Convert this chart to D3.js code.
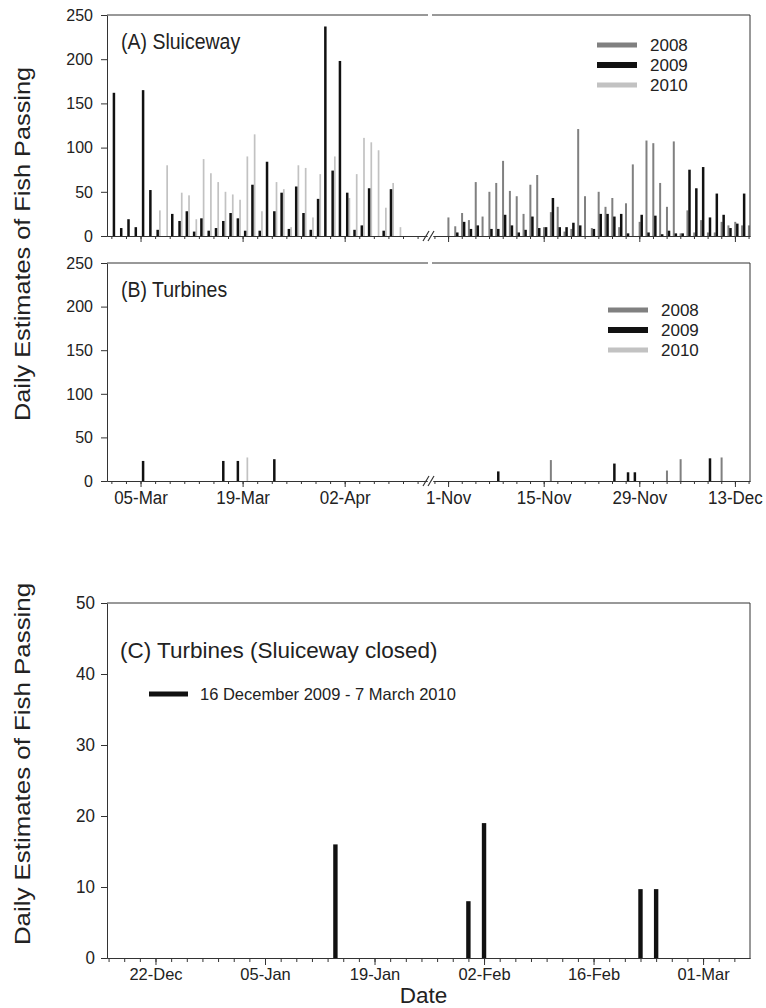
<!DOCTYPE html>
<html><head><meta charset="utf-8">
<script src="https://cdn.jsdelivr.net/npm/d3@7"></script>
<style>
body{margin:0;background:#fff}
svg{display:block}
text{font-family:Arial,"Liberation Sans",sans-serif;fill:#222}
</style></head>
<body><svg id="chart" width="766" height="1008"></svg>
<script>
// ---------------- DATA ----------------
const seriesNames = ["2008", "2009", "2010"];
const seriesColors = ["#808080", "#111111", "#c2c2c2"];

// Panel A – Sluiceway, daily estimates (spring window starts 1 March, fall window starts 1 November)
const springStart = "2009-03-01";
const fallStart = "2009-11-01";
const sluiceSpring2009 = [162,9,19,10,165,52,7,0,25,17,28,5,20,6,9,17,26,20,6,58,6,84,28,49,8,56,26,7,42,237,74,198,49,7,12,54,0,6,53,0,0,0,0];
const sluiceSpring2010 = [0,0,0,0,0,0,29,80,0,49,46,19,87,71,61,50,47,41,90,115,28,0,61,53,10,80,77,21,70,0,90,0,43,70,111,106,97,32,60,10,0,0,0];
const sluiceFall2008 = [21,11,26,18,61,22,50,60,85,51,45,25,58,69,10,27,33,5,8,121,45,9,50,33,43,10,37,81,16,108,105,60,33,107,3,29,4,18,4,4,16,12,16,12,12];
const sluiceFall2009 = [0,4,16,8,12,0,8,8,24,12,4,7,22,9,10,43,10,10,15,12,0,8,25,25,22,25,3,0,24,4,23,2,6,3,3,75,54,78,21,48,24,9,14,48,0];

// Panel B – Turbines (sparse days with passage)
const turbine2008Dates = ["2009-11-16", "2009-12-03", "2009-12-05", "2009-12-11"];
const turbine2008Values = [24, 12, 25, 27];
const turbine2009Dates = ["2009-03-05", "2009-03-16", "2009-03-18", "2009-03-23", "2009-11-08", "2009-11-25", "2009-11-27", "2009-11-28", "2009-12-09"];
const turbine2009Values = [23, 23, 23, 25, 11, 20, 10, 10, 26];
const turbine2010Dates = ["2009-03-19"];
const turbine2010Values = [27];

// Panel C – Turbines with sluiceway closed
const closedDates = ["2010-01-14", "2010-01-31", "2010-02-02", "2010-02-22", "2010-02-24"];
const closedValues = [16, 8, 19, 9.7, 9.7];

// Axis ticks
const abTickDates = ["2009-03-05", "2009-03-19", "2009-04-02", "2009-11-01", "2009-11-15", "2009-11-29", "2009-12-13"];
const abTickLabels = ["05-Mar", "19-Mar", "02-Apr", "1-Nov", "15-Nov", "29-Nov", "13-Dec"];
const abYTicks = [0, 50, 100, 150, 200, 250];
const cTickDates = ["2009-12-22", "2010-01-05", "2010-01-19", "2010-02-02", "2010-02-16", "2010-03-02"];
const cTickLabels = ["22-Dec", "05-Jan", "19-Jan", "02-Feb", "16-Feb", "01-Mar"];
const cYTicks = [0, 10, 20, 30, 40, 50];

// ---------------- LAYOUT ----------------
const SY = 1.12; // vertical stretch of the reference's lettering
const L = 107, R = 750;
const breakL = 427, breakR = 433;
const panelA = {top: 15, bottom: 236};
const panelB = {top: 263, bottom: 481};
const panelC = {top: 603, bottom: 958};
const axisColor = "#333";

const parse = d3.timeParse("%Y-%m-%d");
const svg = d3.select("#chart");

function stretchText(sel, sy) {
  sel.each(function() {
    const t = d3.select(this);
    const x = +t.attr("x") || 0, y = +t.attr("y") || 0;
    t.attr("x", null).attr("y", null)
     .attr("transform", `translate(${x},${y}) scale(1,${sy || SY})`);
  });
}
function label(g, x, y, s, size, anchor, sy) {
  return g.append("text").attr("transform", `translate(${x},${y}) scale(1,${sy || SY})`)
    .attr("font-size", size).attr("text-anchor", anchor || "start").text(s);
}

// x scales for panels A/B (broken axis)
const xLeft = d3.scaleTime()
  .domain([new Date(2009, 1, 28, 9, 36), new Date(2009, 3, 13, 7, 0)])
  .range([L, breakL]);
const xRight = d3.scaleTime()
  .domain([new Date(2009, 9, 29, 19, 0), new Date(2009, 11, 15, 5, 0)])
  .range([breakR, R]);
const xAB = d => (d.getMonth() < 6 ? xLeft(d) : xRight(d));
const dayW = d => (d.getMonth() < 6 ? 7.29 : 6.83);
const subOffset = d3.scalePoint().domain(seriesNames).range([0.05, 0.65]);
const barWidth = {"2008": 2.0, "2009": 2.5, "2010": 1.7};

function dailyRecords(startStr, values, series) {
  const s = parse(startStr);
  return values.map((v, i) => ({date: d3.timeDay.offset(s, i), value: v, series}));
}
function sparseRecords(dates, values, series) {
  return dates.map((d, i) => ({date: parse(d), value: values[i], series}));
}

const dataA = [
  ...dailyRecords(fallStart, sluiceFall2008, "2008"),
  ...dailyRecords(springStart, sluiceSpring2010, "2010"),
  ...dailyRecords(fallStart, sluiceFall2009, "2009"),
  ...dailyRecords(springStart, sluiceSpring2009, "2009")
].filter(d => d.value > 0);
const dataB = [
  ...sparseRecords(turbine2008Dates, turbine2008Values, "2008"),
  ...sparseRecords(turbine2010Dates, turbine2010Values, "2010"),
  ...sparseRecords(turbine2009Dates, turbine2009Values, "2009")
];

function drawABPanel(p, data, title, showLabels, legendX, legendY) {
  const y = d3.scaleLinear().domain([0, 250]).range([p.bottom, p.top]);
  const g = svg.append("g");
  const color = d3.scaleOrdinal(seriesNames, seriesColors);

  g.append("g").selectAll("rect").data(data).join("rect")
    .attr("x", d => xAB(d.date) + subOffset(d.series) * dayW(d.date) - barWidth[d.series] / 2)
    .attr("width", d => barWidth[d.series])
    .attr("y", d => y(d.value))
    .attr("height", d => y(0) - y(d.value))
    .attr("fill", d => color(d.series));

  g.append("line").attr("x1", L).attr("x2", breakL + 1).attr("y1", p.top).attr("y2", p.top).attr("stroke", axisColor);
  g.append("line").attr("x1", breakR - 1).attr("x2", R).attr("y1", p.top).attr("y2", p.top).attr("stroke", axisColor);
  g.append("line").attr("x1", R).attr("x2", R).attr("y1", p.top).attr("y2", p.bottom).attr("stroke", axisColor);

  const ya = g.append("g").attr("transform", `translate(${L},0)`)
    .call(d3.axisLeft(y).tickValues(abYTicks).tickSize(6).tickSizeOuter(0).tickPadding(8));
  ya.selectAll("text").attr("font-size", 16).attr("fill", "#222").attr("dy", "0.32em");
  stretchText(ya.selectAll("text"), 1.05);

  const ticks = abTickDates.map(parse);
  [[xLeft, ticks.filter(d => d.getMonth() < 6)], [xRight, ticks.filter(d => d.getMonth() >= 6)]].forEach(([sc, tk]) => {
    const minor = d3.timeDay.range(sc.domain()[0], sc.domain()[1]).filter(d =>
      Math.abs(d3.timeDay.count(tk[0], d)) % 2 === 0);
    const gm = g.append("g").attr("transform", `translate(0,${p.bottom})`)
      .call(d3.axisBottom(sc).tickValues(minor).tickSize(3).tickSizeOuter(0).tickFormat(""));
    const gM = g.append("g").attr("transform", `translate(0,${p.bottom})`)
      .call(d3.axisBottom(sc).tickValues(tk).tickSize(6).tickSizeOuter(0)
        .tickFormat(d => showLabels ? abTickLabels[abTickDates.indexOf(d3.timeFormat("%Y-%m-%d")(d))] : ""));
    gM.selectAll("text").attr("font-size", 17).attr("fill", "#222").attr("y", 9).attr("dy", "0.75em");
    stretchText(gM.selectAll("text"));
    [gm, gM].forEach(a => a.selectAll("path,line").attr("stroke", axisColor));
  });
  ya.selectAll("path,line").attr("stroke", axisColor);

  [breakL - 1, breakR - 2].forEach(bx => {
    g.append("line").attr("x1", bx - 3).attr("x2", bx + 3)
      .attr("y1", p.bottom + 5).attr("y2", p.bottom - 5)
      .attr("stroke", "#333").attr("stroke-width", 1.2);
  });

  label(g, 121, p.top + 34, title, 19.5, "start", 1.15);

  const lg = g.append("g");
  seriesNames.forEach((s, i) => {
    const ly = legendY + i * 20;
    lg.append("line").attr("x1", legendX).attr("x2", legendX + 40).attr("y1", ly).attr("y2", ly)
      .attr("stroke", seriesColors[i]).attr("stroke-width", s === "2009" ? 6 : 5);
    label(lg, legendX + 53, ly + 6, s, 17, "start", 1.0);
  });
}

drawABPanel(panelA, dataA, "(A) Sluiceway", false, 597, 45);
drawABPanel(panelB, dataB, "(B) Turbines", true, 608, 310);

svg.append("text")
  .attr("transform", `translate(30,244) scale(1,1.15) rotate(-90)`)
  .attr("text-anchor", "middle").attr("font-size", 22).text("Daily Estimates of Fish Passing");

// ---------------- PANEL C ----------------
(function() {
  const p = panelC;
  const x = d3.scaleTime()
    .domain([new Date(2009, 11, 15, 19, 12), new Date(2010, 2, 8, 0, 0)])
    .range([L, R]);
  const y = d3.scaleLinear().domain([0, 50]).range([p.bottom, p.top]);
  const g = svg.append("g");
  const recs = closedDates.map((d, i) => ({date: parse(d), value: closedValues[i]}));

  g.append("g").selectAll("rect").data(recs).join("rect")
    .attr("x", d => x(d.date) - 2.2).attr("width", 4.4)
    .attr("y", d => y(d.value)).attr("height", d => y(0) - y(d.value))
    .attr("fill", "#111");

  g.append("line").attr("x1", L).attr("x2", R).attr("y1", p.top).attr("y2", p.top).attr("stroke", axisColor);
  g.append("line").attr("x1", R).attr("x2", R).attr("y1", p.top).attr("y2", p.bottom).attr("stroke", axisColor);

  const ya = g.append("g").attr("transform", `translate(${L},0)`)
    .call(d3.axisLeft(y).tickValues(cYTicks).tickSize(6).tickSizeOuter(0).tickPadding(6));
  ya.selectAll("text").attr("font-size", 17).attr("fill", "#222").attr("dy", "0.32em");
  stretchText(ya.selectAll("text"), 1.05);

  const tk = cTickDates.map(parse);
  const minor = d3.timeDay.range(x.domain()[0], x.domain()[1]).filter(d =>
    Math.abs(d3.timeDay.count(tk[0], d)) % 2 === 0);
  const gm = g.append("g").attr("transform", `translate(0,${p.bottom})`)
    .call(d3.axisBottom(x).tickValues(minor).tickSize(4).tickSizeOuter(0).tickFormat(""));
  const gM = g.append("g").attr("transform", `translate(0,${p.bottom})`)
    .call(d3.axisBottom(x).tickValues(tk).tickSize(7).tickSizeOuter(0).tickFormat((d, i) => cTickLabels[i]));
  gM.selectAll("text").attr("font-size", 16.5).attr("fill", "#222").attr("y", 9).attr("dy", "0.75em");
  stretchText(gM.selectAll("text"), 1.05);
  [ya, gm, gM].forEach(a => a.selectAll("path,line").attr("stroke", axisColor));

  label(g, 120, p.top + 55, "(C) Turbines (Sluiceway closed)", 22.5, "start", 1.0);
  g.append("line").attr("x1", 149).attr("x2", 188).attr("y1", p.top + 91).attr("y2", p.top + 91)
    .attr("stroke", "#111").attr("stroke-width", 5);
  label(g, 200, p.top + 97, "16 December 2009 - 7 March 2010", 16.5, "start", 1.0);

  svg.append("text")
    .attr("transform", `translate(30,764) scale(1,1.15) rotate(-90)`)
    .attr("text-anchor", "middle").attr("font-size", 22.5).text("Daily Estimates of Fish Passing");
  label(svg, (L + R) / 2 - 5, 1003, "Date", 22.5, "middle", 1.0);
})();
</script></body></html>
